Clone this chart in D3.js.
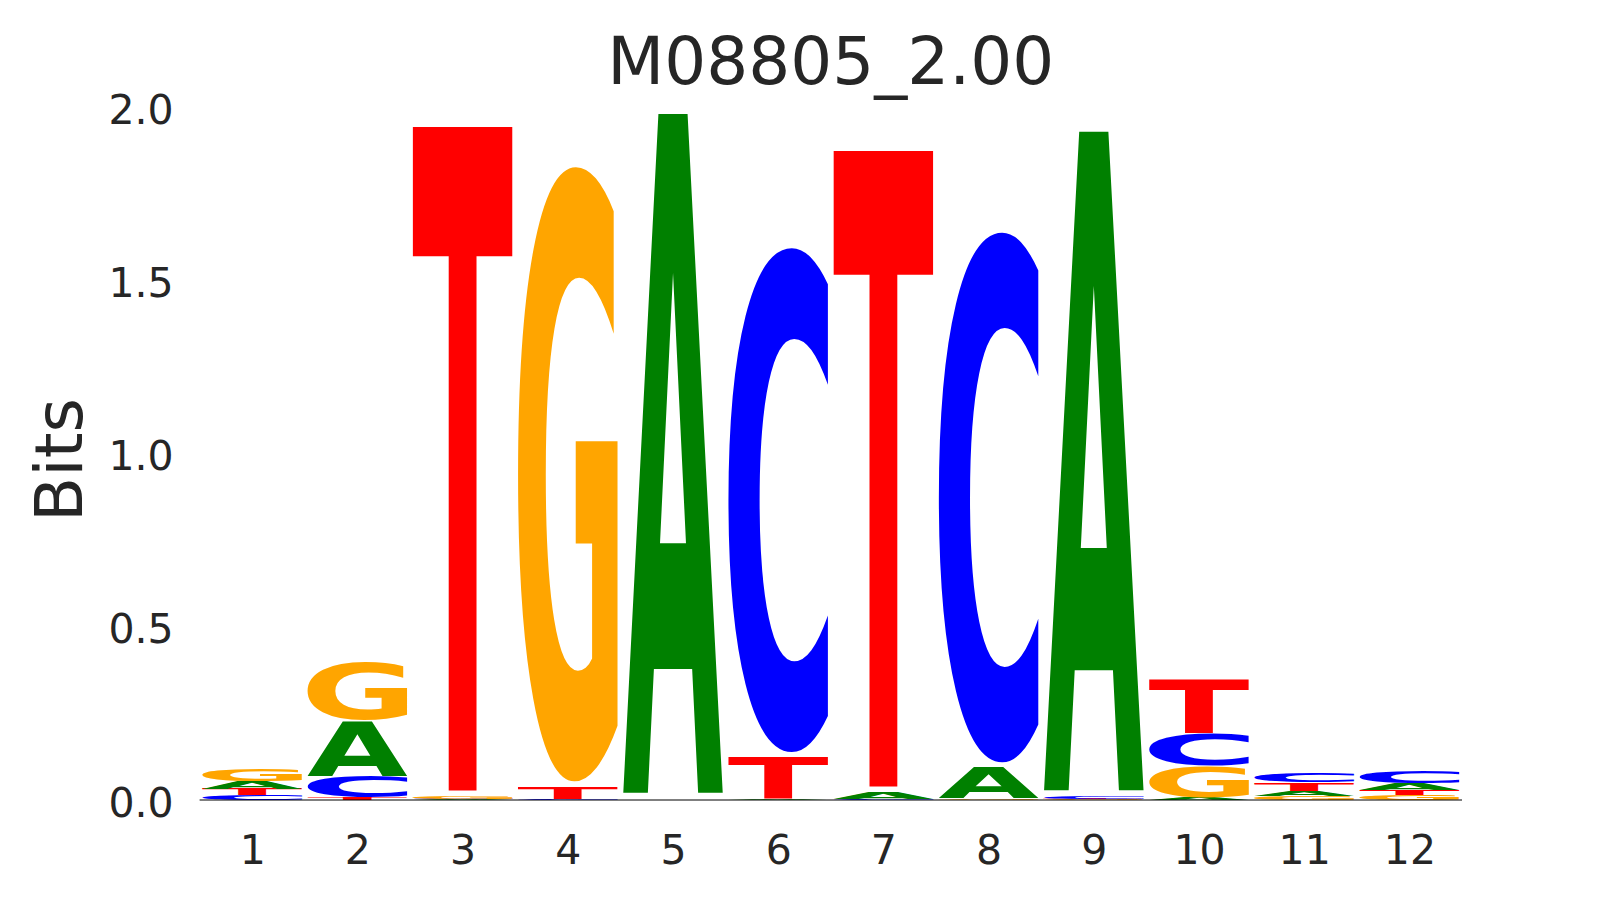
<!DOCTYPE html>
<html><head><meta charset="utf-8">
<script src="https://cdn.jsdelivr.net/npm/d3@7"></script>
<style>body{margin:0;background:#fff;} text{font-family:'DejaVu Sans';}</style>
</head><body><svg id="c" width="1620" height="900"></svg>
<script>
const positions = [1,2,3,4,5,6,7,8,9,10,11,12];
const bases = ['A','C','G','T'];
const A = [0.022,0.160,0.002,0.001,1.995,0.002,0.018,0.091,1.935,0.007,0.016,0.019];
const C = [0.014,0.062,0.002,0.003,0.001,1.480,0.003,1.556,0.007,0.096,0.029,0.034];
const G = [0.037,0.170,0.006,1.804,0.001,0.001,0.001,0.003,0.002,0.090,0.010,0.014];
const T = [0.017,0.006,1.950,0.034,0.001,0.1225,1.868,0.001,0.002,0.155,0.024,0.015];
const yTicks = [0,0.5,1.0,1.5,2.0];
const title = "M08805_2.00";
const yLabel = "Bits";
const colors = {A:'#008000', C:'#0000ff', G:'#ffa500', T:'#ff0000'};
const series = {A, C, G, T};

const svg = d3.select('#c');
const x = d3.scaleLinear().domain([0.5,12.5]).range([199.6,1462]);
const y = d3.scaleLinear().domain([0,2]).range([800,107]);
const glyphWidth = 0.945;
const vpad = 0.018;
const FS = 200;
const MFS = 1000;
const ink = '#262626';

function inkBounds(b){
  const W = 1400, H = 1300, ox = 200, oy = 1100;
  const cnv = document.createElement('canvas'); cnv.width = W; cnv.height = H;
  const ctx = cnv.getContext('2d');
  ctx.font = `bold ${MFS}px "DejaVu Sans"`;
  ctx.fillStyle = '#000';
  ctx.fillText(b, ox, oy);
  const data = ctx.getImageData(0,0,W,H).data;
  let minX=W, maxX=-1, minY=H, maxY=-1;
  for (let yy=0; yy<H; yy++) for (let xx=0; xx<W; xx++) {
    if (data[(yy*W+xx)*4+3] >= 128) {
      if (xx<minX) minX=xx; if (xx>maxX) maxX=xx;
      if (yy<minY) minY=yy; if (yy>maxY) maxY=yy;
    }
  }
  const k = FS/MFS;
  return {L: (ox-minX)*k, R: (maxX+1-ox)*k, asc: (oy-minY)*k, desc: (maxY+1-oy)*k};
}

function draw(){
  const met = {};
  bases.forEach(b => { met[b] = inkBounds(b); });

  const glyphs = [];
  positions.forEach((p,i) => {
    const vals = bases.map(b => ({b, v: series[b][i]})).sort((a,b)=>a.v-b.v);
    let floor = 0;
    vals.forEach(d => {
      const ceil = floor + d.v;
      const pad = d.v*vpad/2;
      glyphs.push({b:d.b, p, lo: floor+pad, hi: ceil-pad});
      floor = ceil;
    });
  });

  svg.append('g').selectAll('text').data(glyphs).join('text')
    .text(d=>d.b)
    .attr('font-size', FS).attr('font-weight','bold')
    .attr('fill', d=>colors[d.b])
    .attr('transform', d => {
      const m = met[d.b];
      const x0 = x(d.p - glyphWidth/2), x1 = x(d.p + glyphWidth/2);
      const yTop = y(d.hi), yBot = y(d.lo);
      const sx = (x1-x0)/(m.L+m.R), sy = Math.max(yBot-yTop, 0.0001)/(m.asc+m.desc);
      return `translate(${x0 + m.L*sx},${yTop + m.asc*sy}) scale(${sx},${sy})`;
    });

  svg.append('line').attr('x1', x(0.5)).attr('x2', x(12.5)).attr('y1', y(0)).attr('y2', y(0))
    .attr('stroke','#000').attr('stroke-width',1.2);

  const ya = svg.append('g').attr('transform',`translate(${x(0.5)},0)`)
    .call(d3.axisLeft(y).tickValues(yTicks).tickFormat(d3.format('.1f')).tickSize(0).tickPadding(26));
  ya.select('.domain').remove();
  ya.selectAll('text').attr('font-size',41).attr('fill',ink).attr('font-family','DejaVu Sans').attr('dy','0.39em');

  const xa = svg.append('g').attr('transform',`translate(0,${y(0)})`)
    .call(d3.axisBottom(x).tickValues(positions).tickFormat(d3.format('d')).tickSize(0).tickPadding(35));
  xa.select('.domain').remove();
  xa.selectAll('text').attr('font-size',41).attr('fill',ink).attr('font-family','DejaVu Sans');

  svg.append('text').text(title).attr('x', (x(0.5)+x(12.5))/2).attr('y', 84)
    .attr('text-anchor','middle').attr('font-size',66).attr('fill',ink);
  svg.append('text').text(yLabel).attr('transform','translate(82,460) rotate(-90)')
    .attr('text-anchor','middle').attr('font-size',66).attr('fill',ink);
}
document.fonts.load(`bold ${MFS}px "DejaVu Sans"`).then(draw, draw);
</script></body></html>
